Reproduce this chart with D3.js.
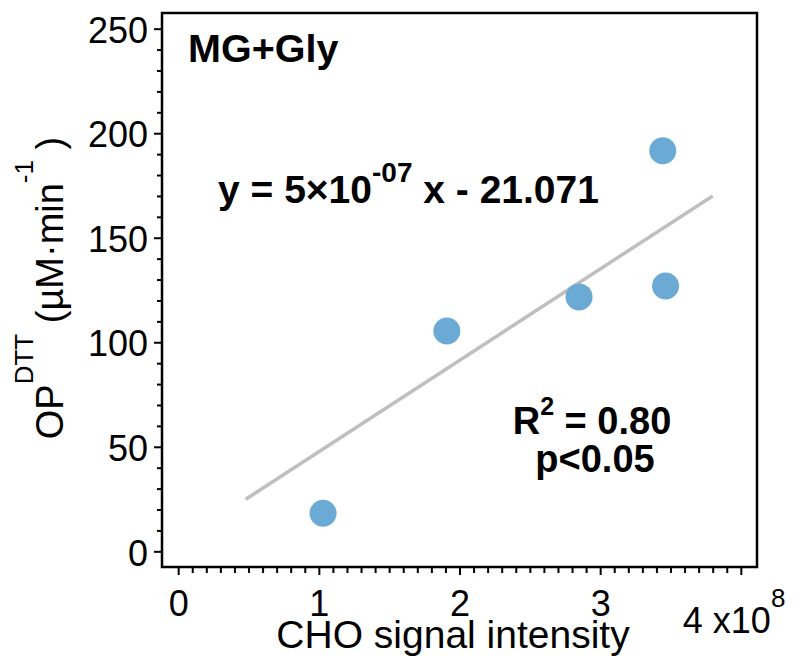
<!DOCTYPE html>
<html>
<head>
<meta charset="utf-8">
<script src="https://cdn.jsdelivr.net/npm/d3@7"></script>
<style>
  body { margin: 0; background: #fff; }
  text { font-family: 'Liberation Sans', Arial, sans-serif; fill: #000; }
</style>
</head>
<body>
<div id="chart"></div>
<script>
// values
// x in units of 1e8 (CHO signal intensity), y is OP DTT
var signalX = [1.03, 1.91, 2.85, 3.445, 3.465]
var opDtt = [18.2, 105.4, 121.7, 191.6, 126.9]
// the drawn fit line (its two ends)
var fitX = [0.48, 3.80]
var fitY = [24.9, 170.0]
var xTickVals = [0, 1, 2, 3, 4]
var yTickVals = [0, 50, 100, 150, 200, 250]
var panelLabel = 'MG+Gly'

// layout settings
var chart = {}
chart.width = 803
chart.height = 665
chart.left = 162
chart.right = 757
chart.top = 13
chart.bottom = 567

var svg = d3.select('#chart')
  .append('svg')
  .attr('width', chart.width)
  .attr('height', chart.height)

// scales
var xScale = d3.scaleLinear().domain([-0.115, 4.115]).range([chart.left, chart.right])
var yScale = d3.scaleLinear().domain([-7.5, 257.5]).range([chart.bottom, chart.top])

// minor ticks every 0.1 / 10
var xMinor = d3.range(0, 41).map(function (d) { return d / 10 }).filter(function (d, i) { return i % 10 !== 0 })
var yMinor = d3.range(0, 251, 10).filter(function (d) { return d % 50 !== 0 })

svg.append('g')
  .attr('transform', 'translate(0,' + chart.bottom + ')')
  .call(d3.axisBottom(xScale).tickValues(xMinor).tickSize(6).tickFormat(''))
  .call(function (g) { g.select('.domain').remove() })
svg.append('g')
  .attr('id', 'g-xAxis')
  .attr('transform', 'translate(0,' + chart.bottom + ')')
  .call(d3.axisBottom(xScale).tickValues(xTickVals).tickSize(8).tickPadding(15)
    .tickFormat(function (d) { return d === 4 ? '' : d }))
  .call(function (g) { g.select('.domain').remove() })

svg.append('g')
  .attr('transform', 'translate(' + chart.left + ',0)')
  .call(d3.axisLeft(yScale).tickValues(yMinor).tickSize(5).tickFormat(''))
  .call(function (g) { g.select('.domain').remove() })
svg.append('g')
  .attr('id', 'g-yAxis')
  .attr('transform', 'translate(' + chart.left + ',0)')
  .call(d3.axisLeft(yScale).tickValues(yTickVals).tickSize(8).tickPadding(6))
  .call(function (g) { g.select('.domain').remove() })

svg.selectAll('.tick line').attr('stroke', '#000').attr('stroke-width', 2)
svg.selectAll('.tick text')
  .attr('font-size', 36)
  .style('font-family', "'Liberation Sans', Arial, sans-serif")
d3.select('#g-yAxis').selectAll('.tick text').attr('dy', '0.38em')

// frame round the plot
svg.append('rect')
  .attr('x', chart.left)
  .attr('y', chart.top)
  .attr('width', chart.right - chart.left)
  .attr('height', chart.bottom - chart.top)
  .attr('fill', 'none')
  .attr('stroke', '#000')
  .attr('stroke-width', 2.5)

// fit line
var fitLine = d3.line()
  .x(function (d) { return xScale(d[0]) })
  .y(function (d) { return yScale(d[1]) })
svg.append('path')
  .datum(d3.zip(fitX, fitY))
  .attr('d', fitLine)
  .attr('fill', 'none')
  .attr('stroke', '#bfbfbf')
  .attr('stroke-width', 3.5)

// points
svg.append('g')
  .selectAll('circle')
  .data(d3.zip(signalX, opDtt))
  .enter()
  .append('circle')
  .attr('cx', function (d) { return xScale(d[0]) })
  .attr('cy', function (d) { return yScale(d[1]) })
  .attr('r', 13.5)
  .attr('fill', '#6aaad5')

// panel label and annotations
svg.append('text')
  .attr('x', 188)
  .attr('y', 62)
  .attr('font-size', 39.5)
  .attr('font-weight', 'bold')
  .text(panelLabel)

var eq = svg.append('text')
  .attr('x', 218)
  .attr('y', 203)
  .attr('font-size', 39)
  .attr('font-weight', 'bold')
eq.append('tspan').text('y = 5×10')
eq.append('tspan').attr('font-size', 28).attr('dy', -21).text('-07')
eq.append('tspan').attr('dy', 21).text(' x - 21.071')

var r2 = svg.append('text')
  .attr('x', 592)
  .attr('y', 434)
  .attr('text-anchor', 'middle')
  .attr('font-size', 38)
  .attr('font-weight', 'bold')
r2.append('tspan').text('R')
r2.append('tspan').attr('font-size', 25).attr('dy', -19).text('2')
r2.append('tspan').attr('dy', 19).text(' = 0.80')

svg.append('text')
  .attr('x', 595)
  .attr('y', 472)
  .attr('text-anchor', 'middle')
  .attr('font-size', 38)
  .attr('font-weight', 'bold')
  .text('p<0.05')

// x axis end label with exponent
var xEnd = svg.append('text')
  .attr('x', xScale(4) - 58)
  .attr('y', 633)
  .attr('font-size', 36)
xEnd.append('tspan').text('4 x10')
xEnd.append('tspan').attr('font-size', 26).attr('dy', -26).text('8')

// axis titles
svg.append('text')
  .attr('x', 453)
  .attr('y', 648)
  .attr('text-anchor', 'middle')
  .attr('font-size', 39)
  .text('CHO signal intensity')

var yTitle = svg.append('text')
  .attr('transform', 'translate(63,' + 288 + ')rotate(-90)')
  .attr('text-anchor', 'middle')
  .attr('font-size', 38)
yTitle.append('tspan').text('OP')
yTitle.append('tspan').attr('font-size', 26).attr('dy', -30).text('DTT')
yTitle.append('tspan').attr('dy', 30).text(' (µM·min')
yTitle.append('tspan').attr('font-size', 26).attr('dy', -30).text('-1')
yTitle.append('tspan').attr('dy', 30).text(' )')
</script>
</body>
</html>
